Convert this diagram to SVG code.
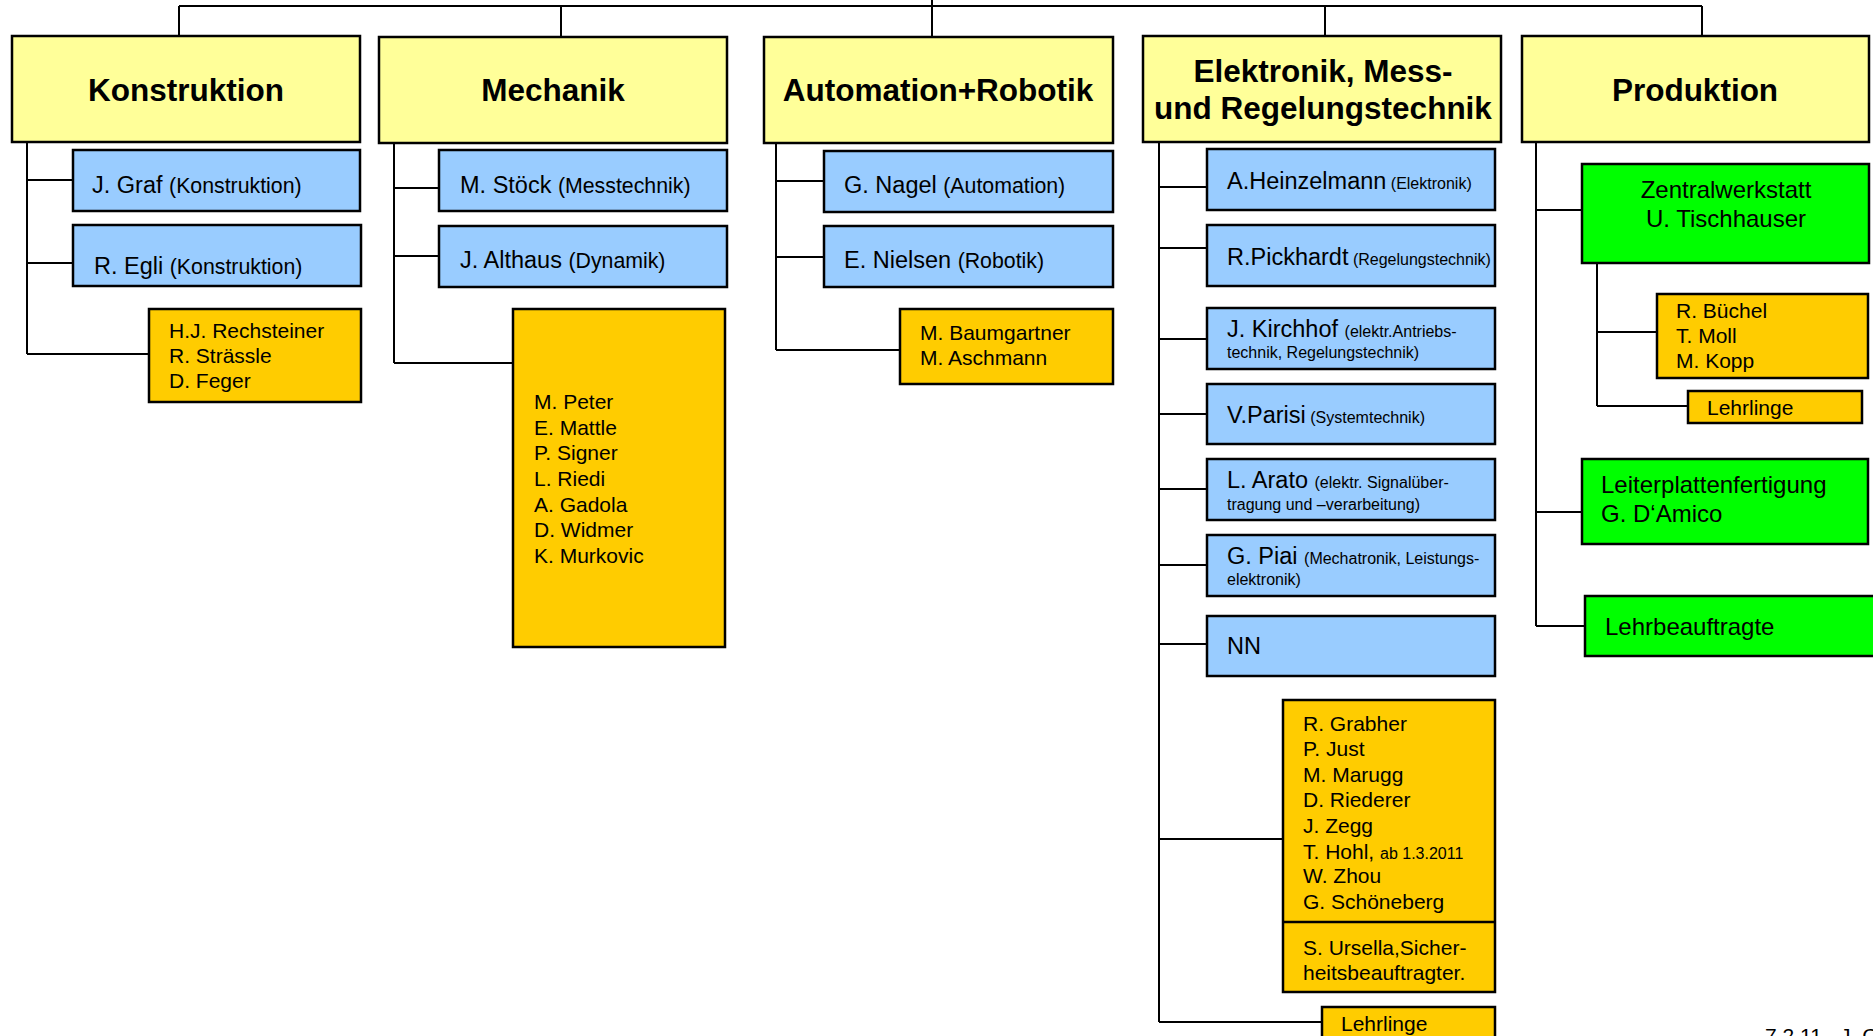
<svg xmlns="http://www.w3.org/2000/svg" width="1873" height="1036" viewBox="0 0 1873 1036">
<style>
text{font-family:"Liberation Sans",Arial,sans-serif;fill:#000}
.hd{fill:#FFFF99;stroke:#000;stroke-width:2.5}
.bl{fill:#99CCFF;stroke:#000;stroke-width:2.5}
.or{fill:#FFCC00;stroke:#000;stroke-width:2.5}
.gr{fill:#00FF00;stroke:#000;stroke-width:2.5}
.ht{font-size:31.5px;font-weight:bold;text-anchor:middle}
.nm{font-size:23.5px}
.pa{font-size:21.3px}
.sm{font-size:16px}
.ls{font-size:21px}
.gt{font-size:24px}
#connectors path{fill:none;stroke:#000;stroke-width:2}
</style>
<rect width="1873" height="1036" fill="#fff"/>
<g id="connectors">
<path d="M179 6H1702M932 0V36M179 6V36M561 6V37M1325 6V36M1702 6V36"/>
<path d="M27 142V354M27 180H73M27 263H73M27 354H149"/>
<path d="M394 143V363M394 188H439M394 256H439M394 363H513"/>
<path d="M776 143V350M776 181H824M776 257H824M776 350H900"/>
<path d="M1159 142V1022M1159 187H1207M1159 248H1207M1159 339H1207M1159 414H1207M1159 489H1207M1159 565H1207M1159 644H1207M1159 839H1283M1159 1022H1322"/>
<path d="M1536 142V626M1536 210H1582M1536 512H1582M1536 626H1585"/>
<path d="M1597 263V406M1597 332H1657M1597 406H1688"/>
</g>
<g id="konstruktion"><rect class="hd" x="12" y="36" width="348" height="106"/><text class="ht" x="186" y="101">Konstruktion</text></g>
<g id="graf"><rect class="bl" x="73" y="150" width="287" height="61"/><text x="92" y="193"><tspan class="nm">J. Graf </tspan><tspan class="pa">(Konstruktion)</tspan></text></g>
<g id="egli"><rect class="bl" x="73" y="225" width="288" height="61"/><text x="94" y="274"><tspan class="nm">R. Egli </tspan><tspan class="pa">(Konstruktion)</tspan></text></g>
<g id="konstr-staff"><rect class="or" x="149" y="309" width="212" height="93"/><text class="ls" x="169" y="338">H.J. Rechsteiner</text><text class="ls" x="169" y="363">R. Strässle</text><text class="ls" x="169" y="388">D. Feger</text></g>

<g id="mechanik"><rect class="hd" x="379" y="37" width="348" height="106"/><text class="ht" x="553" y="101">Mechanik</text></g>
<g id="stoeck"><rect class="bl" x="439" y="150" width="288" height="61"/><text x="460" y="193"><tspan class="nm">M. Stöck </tspan><tspan class="pa">(Messtechnik)</tspan></text></g>
<g id="althaus"><rect class="bl" x="439" y="226" width="288" height="61"/><text x="460" y="268"><tspan class="nm">J. Althaus </tspan><tspan class="pa">(Dynamik)</tspan></text></g>
<g id="mech-staff"><rect class="or" x="513" y="309" width="212" height="338"/>
<text class="ls" x="534" y="409">M. Peter</text><text class="ls" x="534" y="435">E. Mattle</text><text class="ls" x="534" y="460">P. Signer</text><text class="ls" x="534" y="486">L. Riedi</text><text class="ls" x="534" y="512">A. Gadola</text><text class="ls" x="534" y="537">D. Widmer</text><text class="ls" x="534" y="563">K. Murkovic</text></g>

<g id="automation"><rect class="hd" x="764" y="37" width="349" height="106"/><text class="ht" x="938" y="101">Automation+Robotik</text></g>
<g id="nagel"><rect class="bl" x="824" y="151" width="289" height="61"/><text x="844" y="193"><tspan class="nm">G. Nagel </tspan><tspan class="pa">(Automation)</tspan></text></g>
<g id="nielsen"><rect class="bl" x="824" y="226" width="289" height="61"/><text x="844" y="268"><tspan class="nm">E. Nielsen </tspan><tspan class="pa">(Robotik)</tspan></text></g>
<g id="auto-staff"><rect class="or" x="900" y="309" width="213" height="75"/><text class="ls" x="920" y="340">M. Baumgartner</text><text class="ls" x="920" y="365">M. Aschmann</text></g>

<g id="elektronik"><rect class="hd" x="1143" y="36" width="358" height="106"/><text class="ht" x="1323" y="82">Elektronik, Mess-</text><text class="ht" x="1323" y="119">und Regelungstechnik</text></g>
<g id="heinzelmann"><rect class="bl" x="1207" y="149" width="288" height="61"/><text x="1227" y="189"><tspan class="nm">A.Heinzelmann</tspan><tspan class="sm"> (Elektronik)</tspan></text></g>
<g id="pickhardt"><rect class="bl" x="1207" y="225" width="288" height="61"/><text x="1227" y="265"><tspan class="nm">R.Pickhardt</tspan><tspan class="sm"> (Regelungstechnik)</tspan></text></g>
<g id="kirchhof"><rect class="bl" x="1207" y="308" width="288" height="61"/><text x="1227" y="337"><tspan class="nm">J. Kirchhof </tspan><tspan class="sm">(elektr.Antriebs-</tspan></text><text class="sm" x="1227" y="358">technik, Regelungstechnik)</text></g>
<g id="parisi"><rect class="bl" x="1207" y="384" width="288" height="60"/><text x="1227" y="423"><tspan class="nm">V.Parisi</tspan><tspan class="sm"> (Systemtechnik)</tspan></text></g>
<g id="arato"><rect class="bl" x="1207" y="459" width="288" height="61"/><text x="1227" y="488"><tspan class="nm">L. Arato </tspan><tspan class="sm">(elektr. Signalüber-</tspan></text><text class="sm" x="1227" y="510">tragung und –verarbeitung)</text></g>
<g id="piai"><rect class="bl" x="1207" y="535" width="288" height="61"/><text x="1227" y="564"><tspan class="nm">G. Piai </tspan><tspan class="sm">(Mechatronik, Leistungs-</tspan></text><text class="sm" x="1227" y="585">elektronik)</text></g>
<g id="nn"><rect class="bl" x="1207" y="616" width="288" height="60"/><text class="nm" x="1227" y="654">NN</text></g>
<g id="elek-staff"><rect class="or" x="1283" y="700" width="212" height="292"/><path d="M1283 922H1495" stroke="#000" stroke-width="2.5"/>
<text class="ls" x="1303" y="731">R. Grabher</text><text class="ls" x="1303" y="756">P. Just</text><text class="ls" x="1303" y="782">M. Marugg</text><text class="ls" x="1303" y="807">D. Riederer</text><text class="ls" x="1303" y="833">J. Zegg</text><text class="ls" x="1303" y="859">T. Hohl, <tspan class="sm">ab 1.3.2011</tspan></text><text class="ls" x="1303" y="883">W. Zhou</text><text class="ls" x="1303" y="909">G. Schöneberg</text>
<text class="ls" x="1303" y="955">S. Ursella,Sicher-</text><text class="ls" x="1303" y="980">heitsbeauftragter.</text></g>
<g id="elek-lehrlinge"><rect class="or" x="1322" y="1007" width="173" height="40"/><text class="ls" x="1341" y="1031">Lehrlinge</text></g>

<g id="produktion"><rect class="hd" x="1522" y="36" width="347" height="106"/><text class="ht" x="1695" y="101">Produktion</text></g>
<g id="zentralwerkstatt"><rect class="gr" x="1582" y="164" width="287" height="99"/><text class="gt" x="1726" y="198" text-anchor="middle">Zentralwerkstatt</text><text class="gt" x="1726" y="227" text-anchor="middle">U. Tischhauser</text></g>
<g id="zw-staff"><rect class="or" x="1657" y="294" width="211" height="84"/><text class="ls" x="1676" y="318">R. Büchel</text><text class="ls" x="1676" y="343">T. Moll</text><text class="ls" x="1676" y="368">M. Kopp</text></g>
<g id="prod-lehrlinge"><rect class="or" x="1688" y="391" width="174" height="32"/><text class="ls" x="1707" y="415">Lehrlinge</text></g>
<g id="leiterplatten"><rect class="gr" x="1582" y="459" width="286" height="85"/><text class="gt" x="1601" y="493">Leiterplattenfertigung</text><text class="gt" x="1601" y="522">G. D‘Amico</text></g>
<g id="lehrbeauftragte"><rect class="gr" x="1585" y="596" width="290" height="60"/><text class="gt" x="1605" y="635">Lehrbeauftragte</text></g>

<text class="ls" y="1043"><tspan x="1765">7.2.11</tspan><tspan x="1840">J. Gr</tspan></text>
</svg>
